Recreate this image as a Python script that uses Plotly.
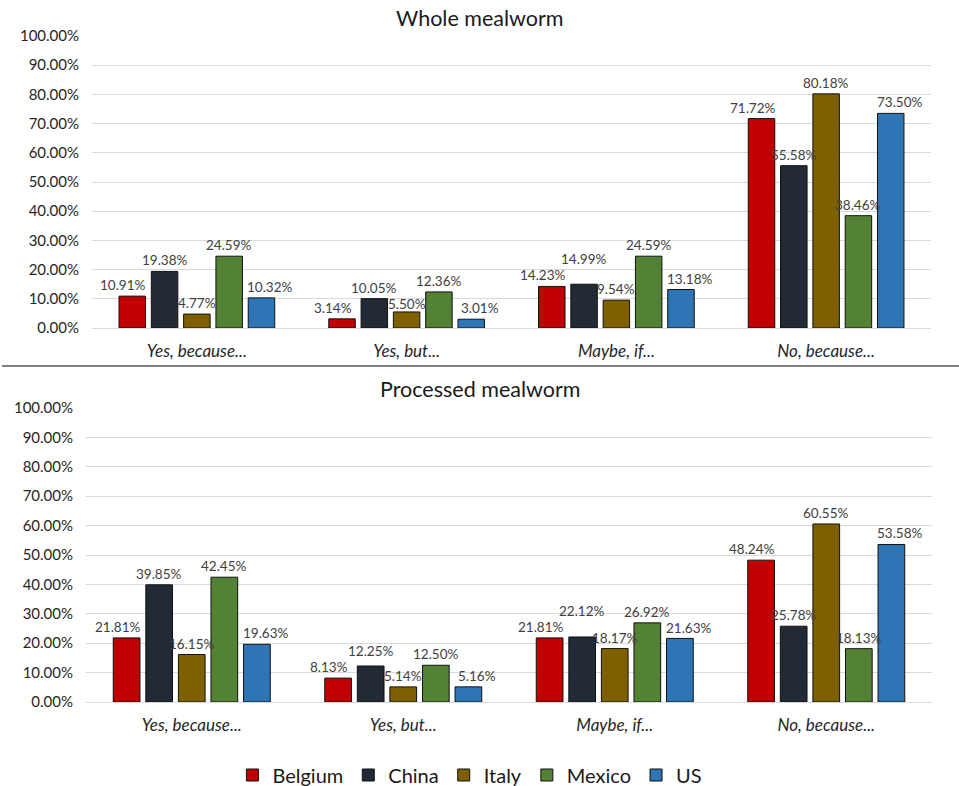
import plotly.graph_objects as go

categories = ["Yes, because...", "Yes, but...", "Maybe, if...", "No, because..."]
countries = ["Belgium", "China", "Italy", "Mexico", "US"]
colors = ["#C00000", "#222A35", "#7F6000", "#548235", "#2E75B6"]

whole_belgium = [10.91, 3.14, 14.23, 71.72]
whole_china = [19.38, 10.05, 14.99, 55.58]
whole_italy = [4.77, 5.50, 9.54, 80.18]
whole_mexico = [24.59, 12.36, 24.59, 38.46]
whole_us = [10.32, 3.01, 13.18, 73.50]

proc_belgium = [21.81, 8.13, 21.81, 48.24]
proc_china = [39.85, 12.25, 22.12, 25.78]
proc_italy = [16.15, 5.14, 18.17, 60.55]
proc_mexico = [42.45, 12.50, 26.92, 18.13]
proc_us = [19.63, 5.16, 21.63, 53.58]

whole = [whole_belgium, whole_china, whole_italy, whole_mexico, whole_us]
proc = [proc_belgium, proc_china, proc_italy, proc_mexico, proc_us]

ytickvals = list(range(0, 101, 10))

W, H = 959, 786
BARGAP, GROUPGAP = 0.23, 0.18
FONT = "Lato"

fig = go.Figure()

panels = [
    dict(data=whole, xa="x", ya="y", ydom=((H - 328) / H, (H - 36) / H), xdom=(92 / W, 931 / W), legend=True),
    dict(data=proc, xa="x2", ya="y2", ydom=((H - 702) / H, (H - 408) / H), xdom=(86 / W, 932 / W), legend=False),
]

xpos = list(range(len(categories)))
annotations = []
for p in panels:
    for j, (name, col) in enumerate(zip(countries, colors)):
        fig.add_trace(go.Bar(
            x=xpos, y=p["data"][j], name=name, xaxis=p["xa"], yaxis=p["ya"],
            marker=dict(color=col, line=dict(color="#111111", width=1)),
            legendgroup=name, showlegend=p["legend"], hoverinfo="skip",
        ))
    # data labels, staggered to avoid overlaps
    plot_h = (p["ydom"][1] - p["ydom"][0]) * H
    ppu = plot_h / 100.0
    slot = (1 - BARGAP) / len(countries)
    for i in range(len(categories)):
        vals = [p["data"][j][i] for j in range(len(countries))]
        ys = [v * ppu + 11 for v in vals]
        for j in range(1, len(vals)):
            if abs(ys[j] - ys[j - 1]) < 16:
                if vals[j] >= vals[j - 1]:
                    ys[j] = ys[j - 1] + 16
                else:
                    ys[j] = ys[j - 1] - 16
        for j, v in enumerate(vals):
            xc = i - (1 - BARGAP) / 2 + slot * (j + 0.5)
            xs = -9 if j == 0 else (9 if j == len(vals) - 1 else 0)
            annotations.append(dict(
                x=xc, y=0, xref=p["xa"], yref=p["ya"], text=f"{v:.2f}%",
                showarrow=False, yanchor="middle", yshift=ys[j], xshift=xs,
                font=dict(family=FONT, size=13.5, color="#404040"),
            ))

annotations.append(dict(x=0.5, y=(H - 18) / H, xref="paper", yref="paper", text="Whole mealworm",
                        showarrow=False, font=dict(family=FONT, size=21.5, color="#1a1a1a"), yanchor="middle"))
annotations.append(dict(x=0.5, y=(H - 389) / H, xref="paper", yref="paper", text="Processed mealworm",
                        showarrow=False, font=dict(family=FONT, size=21.5, color="#1a1a1a"), yanchor="middle"))

xaxis_common = dict(
    tickmode="array", tickvals=xpos, ticktext=[f"<i>{c}</i>" for c in categories],
    range=[-0.5, len(categories) - 0.5], showgrid=False, zeroline=False, showline=False,
    ticks="", ticklabelstandoff=11, tickfont=dict(family=FONT, size=17, color="#262626"),
    fixedrange=True, automargin=False,
)
yaxis_common = dict(
    range=[0, 100], tickmode="array", tickvals=ytickvals, ticktext=[f"{v:.2f}%" for v in ytickvals],
    showgrid=True, gridcolor="#D9D9D9", gridwidth=1, zeroline=True, zerolinecolor="#D9D9D9",
    zerolinewidth=1, showline=False, ticks="", ticklabelstandoff=12,
    tickfont=dict(family=FONT, size=15, color="#262626"), fixedrange=True, automargin=False,
)

fig.update_layout(
    width=W, height=H, margin=dict(l=0, r=0, t=0, b=0, autoexpand=False),
    paper_bgcolor="white", plot_bgcolor="white",
    barmode="group", bargap=BARGAP, bargroupgap=GROUPGAP,
    xaxis=dict(domain=panels[0]["xdom"], anchor="y", **xaxis_common),
    yaxis=dict(domain=panels[0]["ydom"], anchor="x", **yaxis_common),
    xaxis2=dict(domain=panels[1]["xdom"], anchor="y2", **xaxis_common),
    yaxis2=dict(domain=panels[1]["ydom"], anchor="x2", **yaxis_common),
    legend=dict(orientation="h", x=0.49, xanchor="center", y=(H - 775) / H, yanchor="middle",
                font=dict(family=FONT, size=20, color="#1a1a1a"), itemwidth=30, traceorder="normal"),
    annotations=annotations,
    shapes=[dict(type="line", xref="paper", yref="paper", x0=2 / W, x1=1, y0=(H - 366) / H, y1=(H - 366) / H,
                 line=dict(color="#7F7F7F", width=2))],
    showlegend=True,
)

fig.write_html("out.html")
